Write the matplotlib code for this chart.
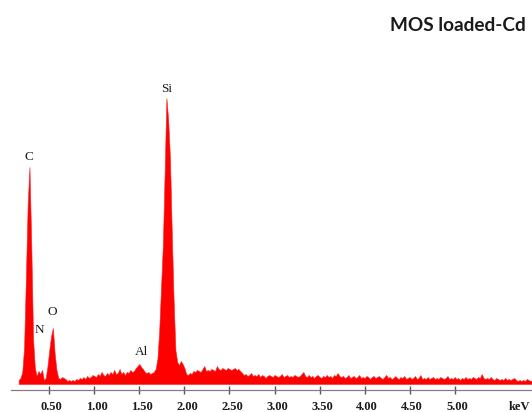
import matplotlib
matplotlib.use("Agg")
import matplotlib.pyplot as plt
import numpy as np
from matplotlib.transforms import ScaledTranslation

# EDS spectrum: channel calibration (keV) and counts per channel
channel_start = 0.16
channel_width = 0.02

counts = [
    4, 6, 12, 36, 105, 180, 217, 140, 45, 16,        # 0.16 - 0.34
    8, 13, 10, 14, 4, 6, 18, 34, 48, 56,             # 0.36 - 0.54
    30, 14, 6, 5, 7, 6, 5, 3, 4, 3,                  # 0.56 - 0.74
    4, 3, 5, 4, 6, 5, 7, 5, 8, 6,                    # 0.76 - 0.94
    7, 9, 8, 7, 10, 8, 12, 9, 8, 11,                 # 0.96 - 1.14
    9, 12, 10, 14, 10, 11, 15, 10, 12, 9,            # 1.16 - 1.34
    12, 11, 14, 12, 13, 16, 18, 20, 17, 15,          # 1.36 - 1.54
    12, 11, 12, 10, 11, 12, 15, 25, 53, 96,          # 1.56 - 1.74
    138, 210, 286, 264, 225, 150, 84, 34, 22, 19,    # 1.76 - 1.94
    23, 20, 16, 10, 9, 11, 10, 13, 12, 14,           # 1.96 - 2.14
    13, 12, 15, 18, 13, 14, 13, 15, 14, 13,          # 2.16 - 2.34
    18, 15, 14, 16, 15, 14, 16, 15, 14, 15,          # 2.36 - 2.54
    16, 14, 15, 13, 11, 9, 10, 8, 9, 11,             # 2.56 - 2.74
    8, 9, 8, 10, 7, 9, 8, 6, 8, 9,                   # 2.76 - 2.94
    8, 7, 9, 8, 7, 8, 10, 7, 8, 9,                   # 2.96 - 3.14
    7, 8, 7, 9, 8, 7, 8, 10, 12, 8,                  # 3.16 - 3.34
    7, 9, 7, 8, 6, 8, 9, 7, 6, 8,                    # 3.36 - 3.54
    7, 9, 7, 8, 6, 9, 8, 11, 8, 7,                   # 3.56 - 3.74
    8, 6, 7, 9, 6, 7, 8, 6, 7, 9,                    # 3.76 - 3.94
    6, 7, 6, 8, 7, 5, 7, 8, 6, 7,                    # 3.96 - 4.14
    8, 6, 5, 7, 9, 6, 7, 5, 6, 8,                    # 4.16 - 4.34
    6, 5, 7, 6, 8, 5, 6, 7, 5, 6,                    # 4.36 - 4.54
    8, 5, 6, 9, 5, 6, 5, 7, 5, 6,                    # 4.56 - 4.74
    7, 5, 6, 5, 7, 6, 5, 6, 8, 5,                    # 4.76 - 4.94
    6, 5, 7, 5, 6, 4, 6, 5, 7, 5,                    # 4.96 - 5.14
    6, 5, 7, 6, 5, 7, 6, 10, 6, 5,                   # 5.16 - 5.34
    6, 5, 7, 5, 4, 6, 5, 4, 5, 4,                    # 5.36 - 5.54
    6, 4, 5, 4, 5, 6, 4, 3, 4, 3,                    # 5.56 - 5.74
    4, 3, 5, 4, 3, 4,                                # 5.76 - 5.86
]

# Element line labels
peak_labels = ["C", "N", "O", "Al", "Si"]
label_energy = [0.275, 0.39, 0.53, 1.52, 1.807]
label_height = [227, 54, 72, 32, 295]

tick_values = [0.5, 1.0, 1.5, 2.0, 2.5, 3.0, 3.5, 4.0, 4.5, 5.0]
tick_labels = ["0.50", "1.00", "1.50", "2.00", "2.50",
               "3.00", "3.50", "4.00", "4.50", "5.00"]
unit_label = "keV"
unit_position = 5.72
title_text = "MOS loaded-Cd"

energies = channel_start + channel_width * np.arange(len(counts))

W, H, DPI = 532, 412, 100
fig = plt.figure(figsize=(W / DPI, H / DPI), dpi=DPI)
ax = fig.add_axes([11 / W, 22 / H, (W - 11) / W, 390 / H])

ax.fill_between(energies, 0, counts, color="#ff0000", lw=0.4,
                edgecolor="#ff2020")

ax.set_xlim(0.075, 5.858)
ax.set_ylim(-6, 384)

for side in ("left", "right", "top"):
    ax.spines[side].set_visible(False)
ax.spines["bottom"].set_color("#808080")
ax.spines["bottom"].set_linewidth(0.9)
ax.set_yticks([])

label_size = 9
label_pad = 5.0
tick_len = 5.8

ax.set_xticks(tick_values)
ax.set_xticklabels(tick_labels)
ax.tick_params(axis="x", direction="inout", length=tick_len, width=1.0,
               color="#555555", pad=label_pad, labelsize=label_size,
               labelcolor="#1a1a1a")
shift = ScaledTranslation(2.5 / DPI, 0, fig.dpi_scale_trans)
for lab in ax.get_xticklabels():
    lab.set_fontfamily("Liberation Serif")
    lab.set_fontweight("bold")
    lab.set_transform(lab.get_transform() + shift)

ax.annotate(unit_label, xy=(unit_position, 0), xycoords=("data", "axes fraction"),
            xytext=(0, -(tick_len / 2 + label_pad)), textcoords="offset points",
            ha="center", va="top", fontsize=label_size, fontweight="bold",
            family="Liberation Serif", color="#1a1a1a")

for name, e, h in zip(peak_labels, label_energy, label_height):
    ax.text(e, h, name, ha="center", va="center", fontsize=9.5,
            family="Liberation Serif", color="#1a1a1a")

fig.text(525.5 / W, 1 - 30.7 / H, title_text, ha="right", va="baseline",
         fontsize=13.7, fontweight="bold", family="Lato", color="#1a1a1a")

fig.savefig("out.png", dpi=DPI)
